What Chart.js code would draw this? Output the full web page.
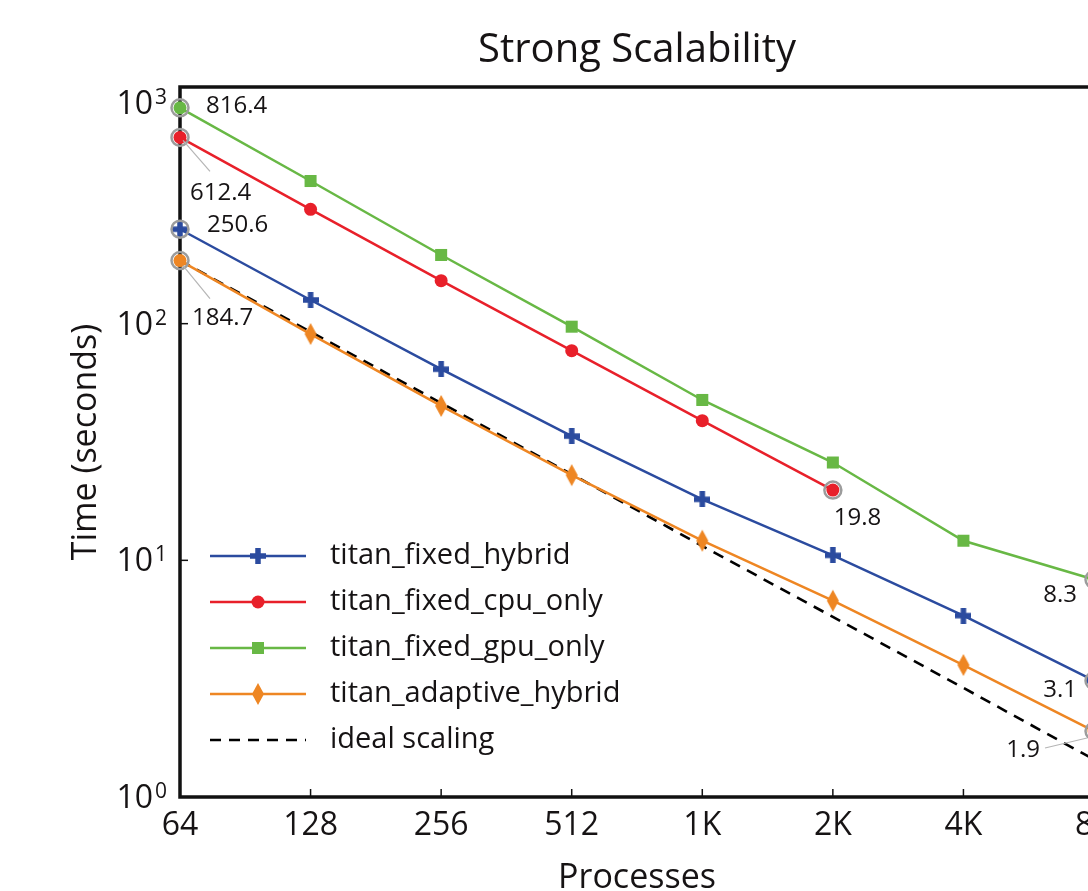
<!DOCTYPE html>
<html>
<head>
<meta charset="utf-8">
<title>Strong Scalability</title>
<script src="https://cdn.jsdelivr.net/npm/chart.js@4.4.1/dist/chart.umd.min.js"></script>
<style>
  html, body { margin: 0; padding: 0; background: #fff; overflow: hidden; }
  #wrap { width: 1160px; height: 891px; }
</style>
</head>
<body>
<div id="wrap"><canvas id="graficaEscalabilidad" width="1160" height="891"></canvas></div>
<script>
// --- datos ---
const processLabels = ['64', '128', '256', '512', '1K', '2K', '4K', '8K'];
const fixedHybrid    = [250.6, 125.9, 64.2, 33.5, 18.1, 10.5, 5.84, 3.1];
const fixedCpuOnly   = [612.4, 304.2, 151.9, 76.9, 38.9, 19.8, null, null];
const fixedGpuOnly   = [816.4, 400.6, 195.1, 97.1, 47.6, 25.9, 12.1, 8.3];
const adaptiveHybrid = [184.7, 90.4, 44.9, 22.9, 12.1, 6.75, 3.61, 1.9];
const idealScaling   = [184.7, 92.4, 46.2, 23.1, 11.5, 5.77, 2.89, 1.44];
const yDecades = [1, 10, 100, 1000];

const FONT = '"Open Sans", "DejaVu Sans", sans-serif';
const TEXT = '#161314';
const BLUE = '#2b4b9f';
const RED = '#e8202a';
const GREEN = '#68b845';
const ORANGE = '#ee8623';
const RING = '#9c9c9c';

// puntos marcados con anillo gris y su etiqueta (dataset, índice, posición del texto)
const highlighted = [
    { ds: 2, idx: 0, dx: 26, dy: -2, align: 'left' },
    { ds: 1, idx: 0, dx: 10, dy: 56, align: 'left', leader: [3, 3, 30, 34] },
    { ds: 0, idx: 0, dx: 27, dy: -4, align: 'left' },
    { ds: 3, idx: 0, dx: 12, dy: 58, align: 'left', leader: [3, 5, 30, 38] },
    { ds: 1, idx: 5, dx: 1, dy: 28, align: 'left' },
    { ds: 2, idx: 7, dx: -17, dy: 16, align: 'right' },
    { ds: 0, idx: 7, dx: -17, dy: 9, align: 'right' },
    { ds: 3, idx: 7, dx: -54, dy: 19, align: 'right', leader: [-49, 17, -7, 7] }
];
function isRinged(ds, idx) {
    return highlighted.some(h => h.ds === ds && h.idx === idx);
}

// marcadores propios: cruz gruesa y rombo alto
const plusImg = document.createElement('canvas');
plusImg.width = 16; plusImg.height = 16;
(function () {
    const c = plusImg.getContext('2d');
    c.fillStyle = BLUE;
    c.fillRect(0, 5.25, 16, 5.5);
    c.fillRect(5.25, 0, 5.5, 16);
})();
const diamondImg = document.createElement('canvas');
diamondImg.width = 14; diamondImg.height = 24;
(function () {
    const c = diamondImg.getContext('2d');
    c.fillStyle = ORANGE;
    c.beginPath();
    c.moveTo(7, 1); c.lineTo(13, 12); c.lineTo(7, 23); c.lineTo(1, 12);
    c.closePath();
    c.fill();
})();

const markerPlugin = {
    id: 'marcos',
    beforeDatasetsDraw(chart) {
        const { ctx, chartArea: a, scales } = chart;
        ctx.save();
        ctx.strokeStyle = '#111';
        ctx.lineWidth = 1.5;
        // ticks hacia dentro
        processLabels.forEach((l, i) => {
            const x = scales.x.getPixelForValue(i);
            ctx.beginPath(); ctx.moveTo(x, a.bottom); ctx.lineTo(x, a.bottom - 8); ctx.stroke();
        });
        yDecades.forEach(v => {
            const y = scales.y.getPixelForValue(v);
            ctx.beginPath(); ctx.moveTo(a.left, y); ctx.lineTo(a.left + 8, y); ctx.stroke();
        });
        // recuadro
        ctx.lineWidth = 3.5;
        ctx.strokeRect(a.left, a.top, a.right - a.left, a.bottom - a.top);
        ctx.restore();
    },
    afterDatasetsDraw(chart) {
        const { ctx } = chart;
        ctx.save();
        ctx.font = '24px ' + FONT;
        ctx.fillStyle = TEXT;
        ctx.textBaseline = 'middle';
        highlighted.forEach(h => {
            const pt = chart.getDatasetMeta(h.ds).data[h.idx];
            const value = chart.data.datasets[h.ds].data[h.idx];
            ctx.strokeStyle = RING;
            ctx.lineWidth = 2.5;
            ctx.beginPath(); ctx.arc(pt.x, pt.y, 8.5, 0, Math.PI * 2); ctx.stroke();
            if (h.leader) {
                ctx.strokeStyle = '#b5b5b5';
                ctx.lineWidth = 1.2;
                ctx.beginPath();
                ctx.moveTo(pt.x + h.leader[0], pt.y + h.leader[1]);
                ctx.lineTo(pt.x + h.leader[2], pt.y + h.leader[3]);
                ctx.stroke();
            }
            ctx.textAlign = h.align;
            ctx.fillText(value.toFixed(1), pt.x + h.dx, pt.y + h.dy);
        });
        ctx.restore();
    },
    afterDraw(chart) {
        const { ctx, chartArea: a, scales } = chart;
        ctx.save();
        ctx.fillStyle = TEXT;
        // etiquetas del eje y con exponente
        yDecades.forEach(v => {
            const y = Math.max(scales.y.getPixelForValue(v), a.top + 16);
            ctx.font = '32px ' + FONT;
            ctx.textAlign = 'right';
            ctx.textBaseline = 'middle';
            ctx.fillText('10', a.left - 27, y + 2);
            ctx.font = '21px ' + FONT;
            ctx.textAlign = 'left';
            ctx.textBaseline = 'alphabetic';
            ctx.fillText(String(Math.round(Math.log10(v))), a.left - 25, y + 1);
        });
        // leyenda dentro del área
        const rowH = 46;
        const y0 = a.bottom - 241;
        chart.data.datasets.forEach((ds, i) => {
            const y = y0 + i * rowH;
            const x0 = a.left + 30, x1 = a.left + 126, xm = a.left + 78;
            ctx.save();
            ctx.strokeStyle = ds.borderColor;
            ctx.lineWidth = ds.borderWidth;
            ctx.setLineDash(ds.borderDash || []);
            ctx.beginPath(); ctx.moveTo(x0, y); ctx.lineTo(x1, y); ctx.stroke();
            ctx.restore();
            if (ds.legendMarker === 'img') {
                const img = ds.markerImg;
                ctx.drawImage(img, xm - img.width / 2, y - img.height / 2);
            } else if (ds.legendMarker === 'circle') {
                ctx.fillStyle = ds.borderColor;
                ctx.beginPath(); ctx.arc(xm, y, 6.5, 0, Math.PI * 2); ctx.fill();
            } else if (ds.legendMarker === 'rect') {
                ctx.fillStyle = ds.borderColor;
                ctx.fillRect(xm - 6, y - 6, 12, 12);
            }
            ctx.fillStyle = TEXT;
            ctx.font = '29px ' + FONT;
            ctx.textAlign = 'left';
            ctx.textBaseline = 'middle';
            ctx.fillText(ds.label, a.left + 150, y);
        });
        ctx.restore();
    }
};

const canvas = document.getElementById('graficaEscalabilidad');
new Chart(canvas.getContext('2d'), {
    type: 'line',
    data: {
        labels: processLabels,
        datasets: [
            {
                label: 'titan_fixed_hybrid', data: fixedHybrid,
                borderColor: BLUE, borderWidth: 2.5, backgroundColor: BLUE,
                pointStyle: plusImg, pointRadius: 8,
                legendMarker: 'img', markerImg: plusImg, clip: false
            },
            {
                label: 'titan_fixed_cpu_only', data: fixedCpuOnly,
                borderColor: RED, borderWidth: 2.5, backgroundColor: RED,
                pointStyle: 'circle', pointRadius: 6.5, pointBorderWidth: 0,
                pointBackgroundColor: RED, legendMarker: 'circle', clip: false
            },
            {
                label: 'titan_fixed_gpu_only', data: fixedGpuOnly,
                borderColor: GREEN, borderWidth: 2.5, backgroundColor: GREEN,
                pointStyle: c => isRinged(2, c.dataIndex) ? 'circle' : 'rect',
                pointRadius: c => isRinged(2, c.dataIndex) ? 6.5 : 8.5,
                pointBorderWidth: 0, pointBackgroundColor: GREEN,
                legendMarker: 'rect', clip: false
            },
            {
                label: 'titan_adaptive_hybrid', data: adaptiveHybrid,
                borderColor: ORANGE, borderWidth: 2.5, backgroundColor: ORANGE,
                pointStyle: c => isRinged(3, c.dataIndex) ? 'circle' : diamondImg,
                pointRadius: c => isRinged(3, c.dataIndex) ? 6.5 : 10,
                pointBorderWidth: 0, pointBackgroundColor: ORANGE,
                legendMarker: 'img', markerImg: diamondImg, clip: false
            },
            {
                label: 'ideal scaling', data: idealScaling,
                borderColor: '#000', borderWidth: 2.6, borderDash: [11, 8],
                pointRadius: 0, legendMarker: 'none', clip: false
            }
        ]
    },
    options: {
        responsive: false,
        animation: false,
        events: [],
        layout: { padding: { left: 0, top: 0, right: 66, bottom: 0 } },
        plugins: {
            legend: { display: false },
            tooltip: { enabled: false },
            title: {
                display: true, text: 'Strong Scalability', fullSize: false,
                color: TEXT, font: { family: FONT, size: 40, weight: 'normal' },
                padding: { top: 27, bottom: 12 }
            }
        },
        scales: {
            x: {
                type: 'category', offset: false,
                grid: { display: false, drawTicks: false },
                border: { display: false },
                ticks: { color: TEXT, font: { family: FONT, size: 32 }, padding: 10, maxRotation: 0, autoSkip: false },
                title: { display: true, text: 'Processes', color: TEXT, font: { family: FONT, size: 34 }, padding: { top: 0, bottom: -8 } },
                afterFit: s => { s.height = 94; s.paddingLeft = 0; s.paddingRight = 0; }
            },
            y: {
                type: 'logarithmic', min: 1, max: 1000,
                grid: { display: false, drawTicks: false },
                border: { display: false },
                ticks: { display: false },
                title: { display: true, text: 'Time (seconds)', color: TEXT, font: { family: FONT, size: 34 }, padding: { top: 66, bottom: 0 } },
                afterFit: s => { s.width = 180; }
            }
        }
    },
    plugins: [markerPlugin]
});
</script>
</body>
</html>
